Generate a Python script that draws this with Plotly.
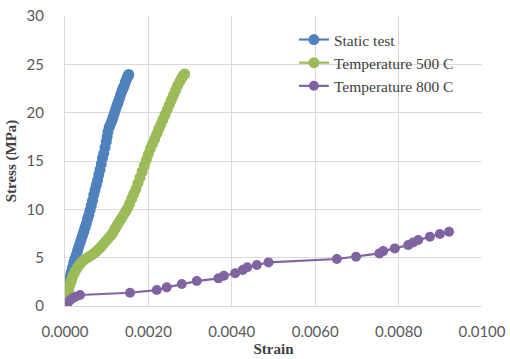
import plotly.graph_objects as go

static_strain = [0.0, 0.00001, 0.00002, 0.00003, 0.00005, 0.00007, 0.00009, 0.00011, 0.00013, 0.00015,
                 0.00018, 0.00021, 0.00024, 0.00027, 0.0003, 0.00033, 0.00036, 0.00039, 0.00042, 0.00045,
                 0.00048, 0.00051, 0.00054, 0.00057, 0.0006, 0.00063, 0.00066, 0.00069, 0.00072, 0.00075,
                 0.00078, 0.00081, 0.00084, 0.00087, 0.0009, 0.00093, 0.00096, 0.00099, 0.00101, 0.00103,
                 0.00106, 0.00109, 0.00112, 0.00115, 0.00118, 0.00121, 0.00124, 0.00127, 0.0013, 0.00133,
                 0.00136, 0.00139, 0.00142, 0.00145, 0.00148, 0.0015, 0.00152, 0.00153]
static_stress = [0.0, 0.3, 0.6, 0.9, 1.4, 1.9, 2.3, 2.7, 3.1, 3.5,
                 4.0, 4.5, 4.9, 5.3, 5.7, 6.1, 6.5, 6.9, 7.3, 7.7,
                 8.1, 8.5, 9.0, 9.4, 9.9, 10.4, 10.9, 11.5, 12.0, 12.5,
                 13.0, 13.6, 14.1, 14.7, 15.3, 15.8, 16.4, 17.0, 17.5, 18.0,
                 18.5, 18.8, 19.1, 19.5, 19.9, 20.3, 20.7, 21.0, 21.4, 21.8,
                 22.2, 22.5, 22.8, 23.2, 23.5, 23.7, 23.85, 23.95]

t500_strain = [0.0, 0.00002, 0.00004, 0.00006, 0.00009, 0.00012, 0.00015, 0.00018, 0.00022, 0.00026,
               0.0003, 0.00035, 0.0004, 0.00045, 0.0005, 0.00056, 0.00062, 0.00068, 0.00074, 0.0008,
               0.00086, 0.00092, 0.00098, 0.00104, 0.0011, 0.00115, 0.0012, 0.00125, 0.0013, 0.00135,
               0.0014, 0.00145, 0.0015, 0.00155, 0.0016, 0.00165, 0.0017, 0.00175, 0.0018, 0.00185,
               0.0019, 0.00195, 0.002, 0.00205, 0.0021, 0.00215, 0.0022, 0.00225, 0.0023, 0.00235,
               0.0024, 0.00245, 0.0025, 0.00255, 0.0026, 0.00265, 0.0027, 0.00275, 0.0028, 0.00284, 0.00287]
t500_stress = [0.0, 0.4, 0.8, 1.2, 1.7, 2.2, 2.6, 3.0, 3.35, 3.7,
               4.0, 4.3, 4.55, 4.75, 4.9, 5.05, 5.2, 5.4, 5.6, 5.85,
               6.1, 6.4, 6.7, 7.0, 7.3, 7.6, 8.0, 8.35, 8.7, 9.05,
               9.4, 9.75, 10.1, 10.6, 11.1, 11.6, 12.1, 12.7, 13.3, 13.9,
               14.5, 15.1, 15.7, 16.3, 16.8, 17.3, 17.8, 18.3, 18.8, 19.3,
               19.8, 20.3, 20.8, 21.3, 21.8, 22.3, 22.8, 23.2, 23.6, 23.85, 24.0]

t800_strain = [0.0, 0.00003, 0.00007, 0.00012, 0.00018, 0.00025, 0.00036, 0.00156, 0.0022, 0.00244, 0.0028,
               0.00316, 0.00368, 0.00381, 0.00408, 0.00426, 0.00437, 0.0046, 0.00488, 0.00652, 0.00698,
               0.00754, 0.00763, 0.00791, 0.00823, 0.00835, 0.00847, 0.00875, 0.00899, 0.00921]
t800_stress = [0.0, 0.15, 0.35, 0.6, 0.8, 0.95, 1.14, 1.37, 1.65, 1.93, 2.27,
               2.58, 2.86, 3.13, 3.38, 3.72, 4.0, 4.24, 4.51, 4.86, 5.1,
               5.44, 5.68, 5.96, 6.3, 6.58, 6.82, 7.16, 7.44, 7.68]

series_names = ["Static test", "Temperature 500 C", "Temperature 800 C"]
series_colors = ["#4f81bd", "#9bbb59", "#8064a2"]

x_ticks = [0.0, 0.002, 0.004, 0.006, 0.008, 0.01]
y_ticks = [0, 5, 10, 15, 20, 25, 30]

fig = go.Figure()
data = [(static_strain, static_stress, 11), (t500_strain, t500_stress, 11), (t800_strain, t800_stress, 10)]
for (xs, ys, ms), name, col in zip(data, series_names, series_colors):
    fig.add_trace(go.Scatter(x=xs, y=ys, mode="lines+markers", name=name,
                             line=dict(color=col, width=2.2),
                             marker=dict(color=col, size=ms)))

tick_font = dict(family="Lato, Noto Sans, sans-serif", size=15, color="#595959")
title_font = dict(family="Liberation Serif, Times New Roman, serif", size=15, color="#404040")

fig.update_layout(
    width=510, height=359,
    margin=dict(l=65, r=28, t=16, b=53),
    paper_bgcolor="white", plot_bgcolor="white",
    showlegend=True,
    legend=dict(x=0.549, y=0.976, xanchor="left", yanchor="top",
                bgcolor="rgba(0,0,0,0)", tracegroupgap=0,
                font=dict(family="Liberation Serif, Times New Roman, serif", size=15.5, color="#404040")),
    xaxis=dict(range=[0, 0.01], tickvals=x_ticks, tickformat=".4f", automargin=False,
               showgrid=True, gridcolor="#d9d9d9", gridwidth=1,
               showline=True, linecolor="#d9d9d9", zeroline=False,
               tickfont=tick_font, ticklabelstandoff=12,
               title=dict(text="<b>Strain</b>", font=title_font, standoff=4)),
    yaxis=dict(range=[0, 30], tickvals=y_ticks, automargin=False,
               showgrid=True, gridcolor="#d9d9d9", gridwidth=1,
               showline=True, linecolor="#d9d9d9", zeroline=False,
               tickfont=tick_font, ticklabelstandoff=17,
               title=dict(text="<b>Stress (MPa)</b>", font=title_font, standoff=6)),
)

fig.write_html("out.html")
